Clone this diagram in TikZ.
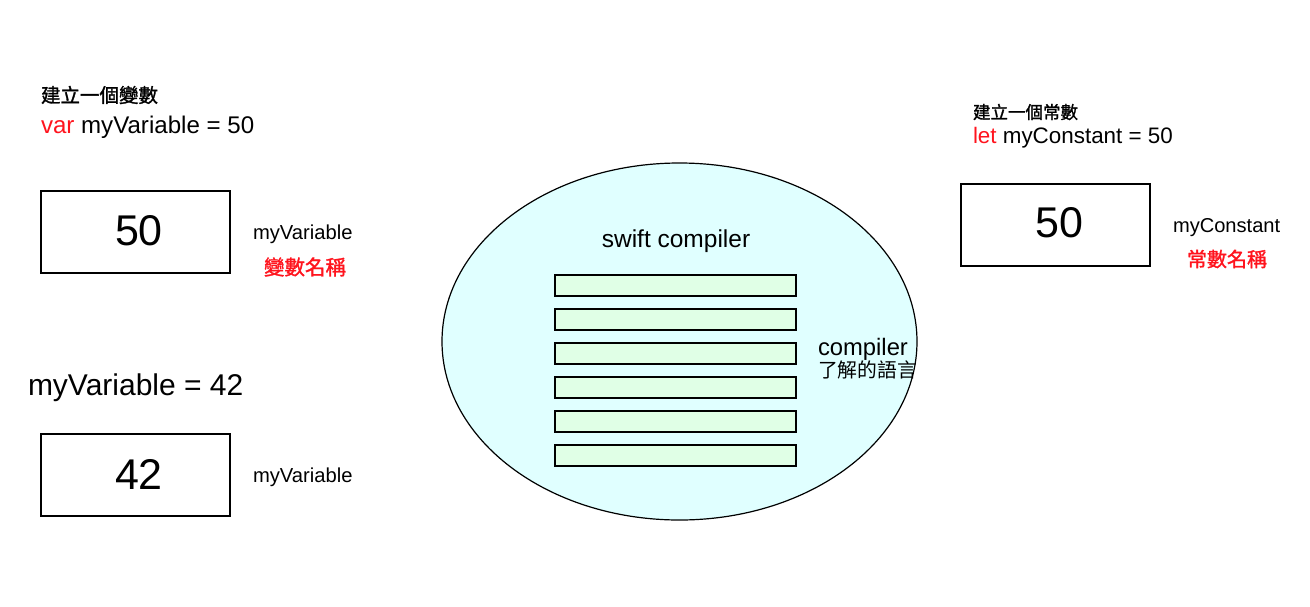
\documentclass[tikz,border=0pt]{standalone}
\usepackage{fontspec}
\setmainfont{Liberation Sans}
\newfontfamily\cjk{Noto Sans CJK TC}
\newfontfamily\cjkb[FakeBold=1.5]{Noto Sans CJK TC}
\usetikzlibrary{shapes.geometric}
\definecolor{txtred}{RGB}{255,20,30}
\definecolor{ellfill}{RGB}{224,255,255}
\definecolor{barfill}{RGB}{224,255,230}
\tikzset{
  x=1pt,y=-1pt,
  every node/.style={inner sep=0pt,outer sep=0pt},
  valbox/.style={draw,line width=1.2pt,minimum width=189pt,minimum height=82pt},
  bar/.style={draw,line width=1.1pt,fill=barfill,minimum width=241pt,minimum height=21pt},
  lbl/.style={anchor=base west},
}
\begin{document}
\begin{tikzpicture}
\useasboundingbox (0,0) rectangle (1310,606);
\fill[white] (0,0) rectangle (1310,606);
% left top
\node[anchor=west] (t1) at (41,95) {\cjkb\fontsize{19.5}{19.5}\selectfont 建立一個變數};
\node[lbl] (d1) at (41,133) {\fontsize{24.1}{24.1}\selectfont\textcolor{txtred}{var} myVariable = 50};
\node[valbox] (b1) at (135.5,232) {};
\node[anchor=base] (v1) at (139,245) {\fontsize{43}{43}\selectfont 50};
\node[lbl] (n1) at (253,239) {\fontsize{20.2}{20.2}\selectfont myVariable};
\node[anchor=west] (c1) at (264,267) {\cjkb\fontsize{20.5}{20.5}\selectfont\color{txtred}變數名稱};
% left bottom
\node[lbl] (d2) at (28,395) {\fontsize{30}{30}\selectfont myVariable = 42};
\node[valbox] (b2) at (135.5,475) {};
\node[anchor=base] (v2) at (139,489) {\fontsize{43}{43}\selectfont 42};
\node[lbl] (n2) at (253,482) {\fontsize{20.2}{20.2}\selectfont myVariable};
% ellipse
\node[draw,ellipse,line width=1.2pt,fill=ellfill,minimum width=475pt,minimum height=357pt] (comp) at (679.5,341.5) {};
\node[anchor=base] (sc) at (676,247) {\fontsize{24.5}{24.5}\selectfont swift compiler};
\foreach \i/\y in {1/285.5,2/319.5,3/353.5,4/387.5,5/421.5,6/455.5}{
  \node[bar] (bar\i) at (675.5,\y) {};
}
\node[lbl] (cl) at (818,355) {\fontsize{23.8}{23.8}\selectfont compiler};
\node[anchor=west] (cl2) at (818,370) {\cjk\fontsize{19.8}{19.8}\selectfont 了解的語言};
% right
\node[anchor=west] (t3) at (973,112) {\cjkb\fontsize{17.5}{17.5}\selectfont 建立一個常數};
\node[lbl] (d3) at (973,143) {\fontsize{22.4}{22.4}\selectfont\textcolor{txtred}{let} myConstant = 50};
\node[valbox] (b3) at (1055.5,225) {};
\node[anchor=base] (v3) at (1059,237) {\fontsize{43}{43}\selectfont 50};
\node[lbl] (n3) at (1173,232) {\fontsize{20.1}{20.1}\selectfont myConstant};
\node[anchor=west] (c3) at (1187,259) {\cjkb\fontsize{20}{20}\selectfont\color{txtred}常數名稱};
\end{tikzpicture}
\end{document}
